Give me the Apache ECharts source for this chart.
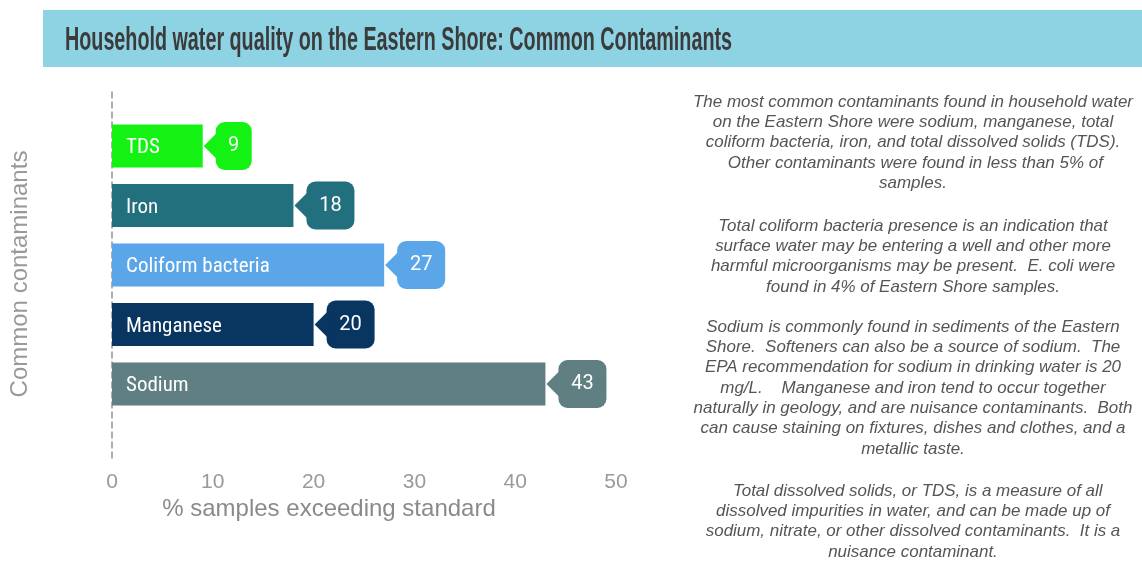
<!DOCTYPE html>
<html>
<head>
<meta charset="utf-8">
<script src="https://cdn.jsdelivr.net/npm/echarts@6/dist/echarts.min.js"></script>
<style>
html,body{margin:0;padding:0;background:#fff;}
#chart{width:1142px;height:561px;}
</style>
</head>
<body>
<div id="chart"></div>
<script>
// ---- data ----
var categories = ['TDS', 'Iron', 'Coliform bacteria', 'Manganese', 'Sodium'];
var values = [9, 18, 27, 20, 43];
var xTickMin = 0, xTickMax = 50, xTickStep = 10;

var titleText = 'Household water quality on the Eastern Shore: Common Contaminants';
var xAxisTitle = '% samples exceeding standard';
var yAxisTitle = 'Common contaminants';
var para1 = [
  'The most common contaminants found in household water',
  'on the Eastern Shore were sodium, manganese, total',
  'coliform bacteria, iron, and total dissolved solids (TDS).',
  ' Other contaminants were found in less than 5% of',
  'samples.'
];
var para2 = [
  'Total coliform bacteria presence is an indication that',
  'surface water may be entering a well and other more',
  'harmful microorganisms may be present.  E. coli were',
  'found in 4% of Eastern Shore samples.'
];
var para3 = [
  'Sodium is commonly found in sediments of the Eastern',
  'Shore.  Softeners can also be a source of sodium.  The',
  'EPA recommendation for sodium in drinking water is 20',
  'mg/L.    Manganese and iron tend to occur together',
  'naturally in geology, and are nuisance contaminants.  Both',
  'can cause staining on fixtures, dishes and clothes, and a',
  'metallic taste.'
];
var para4 = [
  '  Total dissolved solids, or TDS, is a measure of all',
  'dissolved impurities in water, and can be made up of',
  'sodium, nitrate, or other dissolved contaminants.  It is a',
  'nuisance contaminant.'
];

// ---- styles ----
var palette = ['#14f214', '#22707e', '#5ba6e9', '#083660', '#5f7f83'];
var narrowFont = '"Liberation Sans Narrow", "Roboto Condensed", "DejaVu Sans Condensed", Roboto, sans-serif';

function measure(text, font) {
  var ctx = document.createElement('canvas').getContext('2d');
  ctx.font = font;
  return ctx.measureText(text).width;
}
var titleFontSize = 34;
var titleW = measure(titleText, 'bold ' + titleFontSize + 'px "Liberation Sans"');
var titleScale = 667 / titleW;
var paraFontSize = 17;
var paraW = measure(para1[0], 'italic ' + paraFontSize + 'px "Liberation Sans"');
var paraScale = 440 / paraW;

function paraText(lines, yFirst) {
  return {
    type: 'text', x: 913, y: yFirst - 10.15, scaleX: paraScale, z: 10,
    style: {
      text: lines.join('\n'), align: 'center', verticalAlign: 'top',
      fontFamily: 'Liberation Sans', fontStyle: 'italic', fontSize: paraFontSize,
      lineHeight: 20.3, fill: '#555555'
    }
  };
}

var chart = echarts.init(document.getElementById('chart'), null, {renderer: 'canvas'});
var option = {
  animation: false,
  backgroundColor: '#ffffff',
  graphic: [
    {type: 'rect', shape: {x: 43, y: 10, width: 1099, height: 57}, style: {fill: '#8ed3e4'}, z: 0},
    {type: 'text', x: 65, y: 41, scaleX: titleScale, z: 10,
      style: {text: titleText, align: 'left', verticalAlign: 'middle', fontFamily: 'Liberation Sans',
        fontWeight: 'bold', fontSize: titleFontSize, fill: '#3b3b3b'}},
    paraText(para1, 102),
    paraText(para2, 226),
    paraText(para3, 327),
    paraText(para4, 491)
  ],
  grid: [
    {left: 112, width: 504, top: 116.25, height: 297.5},
    {left: 112, width: 504, top: 92, height: 366}
  ],
  xAxis: [
    {
      type: 'value', gridIndex: 0, min: xTickMin, max: xTickMax, interval: xTickStep,
      axisLine: {show: false}, axisTick: {show: false}, splitLine: {show: false},
      axisLabel: {margin: 58, color: '#9a9a9a', fontSize: 21, fontFamily: 'Liberation Sans'},
      name: xAxisTitle, nameLocation: 'middle', nameGap: 82,
      nameTextStyle: {color: '#8a8a8a', fontSize: 24, fontFamily: 'Liberation Sans', padding: [0, 70, 0, 0]}
    },
    {type: 'value', gridIndex: 1, min: 0, max: 1, show: false}
  ],
  yAxis: [
    {
      type: 'category', gridIndex: 0, data: categories, inverse: true,
      axisLine: {show: false}, axisTick: {show: false}, axisLabel: {show: false}, splitLine: {show: false},
      name: yAxisTitle, nameLocation: 'middle', nameGap: 80, nameRotate: 90,
      nameTextStyle: {color: '#999999', fontSize: 24, fontFamily: 'Liberation Sans', padding: [0, 18, 0, 0]}
    },
    {
      type: 'value', gridIndex: 1, min: 0, max: 1,
      axisLine: {show: true, lineStyle: {color: '#9a9a9a', width: 1.6, type: [6, 4]}},
      axisTick: {show: false}, axisLabel: {show: false}, splitLine: {show: false}
    }
  ],
  series: [
    {
      type: 'bar', xAxisIndex: 0, yAxisIndex: 0, barWidth: 43,
      data: values.map(function (v, i) { return {value: v, itemStyle: {color: palette[i]}}; }),
      label: {show: true, position: 'insideLeft', distance: 14, formatter: '{b}',
        color: '#ffffff', fontSize: 21, fontFamily: narrowFont, offset: [0, 2]}
    },
    {
      type: 'custom', xAxisIndex: 0, yAxisIndex: 0, z: 5,
      data: values.map(function (v, i) { return [v, i]; }),
      encode: {x: 0, y: 1},
      renderItem: function (params, api) {
        var v = api.value(0), c = api.value(1);
        var p = api.coord([v, c]);
        var color = palette[params.dataIndex];
        var h = 48;
        var txt = String(v);
        var w = 24 + 12 * txt.length;
        var x0 = p[0] + 1;
        var xl = x0 + 12;
        var yt = p[1] - h / 2;
        return {
          type: 'group',
          children: [
            {type: 'rect', shape: {x: xl, y: yt, width: w, height: h, r: 9}, style: {fill: color}},
            {type: 'polygon', shape: {points: [[x0, p[1]], [xl + 2, p[1] - 14], [xl + 2, p[1] + 14]]}, style: {fill: color}},
            {type: 'text', style: {text: txt, x: xl + w / 2, y: p[1], align: 'center', verticalAlign: 'middle',
              fill: '#ffffff', fontSize: 20, fontFamily: 'Roboto'}}
          ]
        };
      }
    }
  ]
};
chart.setOption(option);
</script>
</body>
</html>
